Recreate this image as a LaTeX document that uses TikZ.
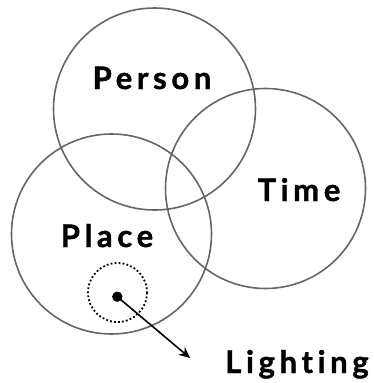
\documentclass[tikz,border=0pt]{standalone}
\usepackage{fontspec}
\setmainfont{Lato}[UprightFont={* Bold},LetterSpace=15,Ligatures=NoCommon,FakeBold=1.2]
\usetikzlibrary{arrows.meta}
\begin{document}
\begin{tikzpicture}[x=1pt,y=-1pt,
  ring/.style={draw=black!60,line width=1.6pt},
  lbl/.style={font=\fontsize{31}{32}\selectfont,anchor=base,inner sep=0pt,text=black}]
\useasboundingbox (0,0) rectangle (374,383);
\draw[ring] (154.5,109) circle[radius=101];
\draw[ring] (265.5,188.5) circle[radius=100];
\draw[ring] (111.5,234) circle[radius=100];
\draw[black,line width=1.8pt,dash pattern=on 1.8pt off 2.2pt] (117.5,292.5) circle[radius=29.5];
\fill[black] (117.3,296.7) circle[radius=5.2] coordinate (dot);
\coordinate (tip) at (190,358);
\draw[line width=1.6pt,-{Stealth[length=11pt,width=10pt]}] (dot) -- (tip);
\node[lbl] (person) at (152,89) {Person};
\node[lbl] (time) at (299,201) {Time};
\node[lbl] (place) at (107,247) {Place};
\node[lbl] (lighting) at (297,373) {Lighting};
\end{tikzpicture}
\end{document}
